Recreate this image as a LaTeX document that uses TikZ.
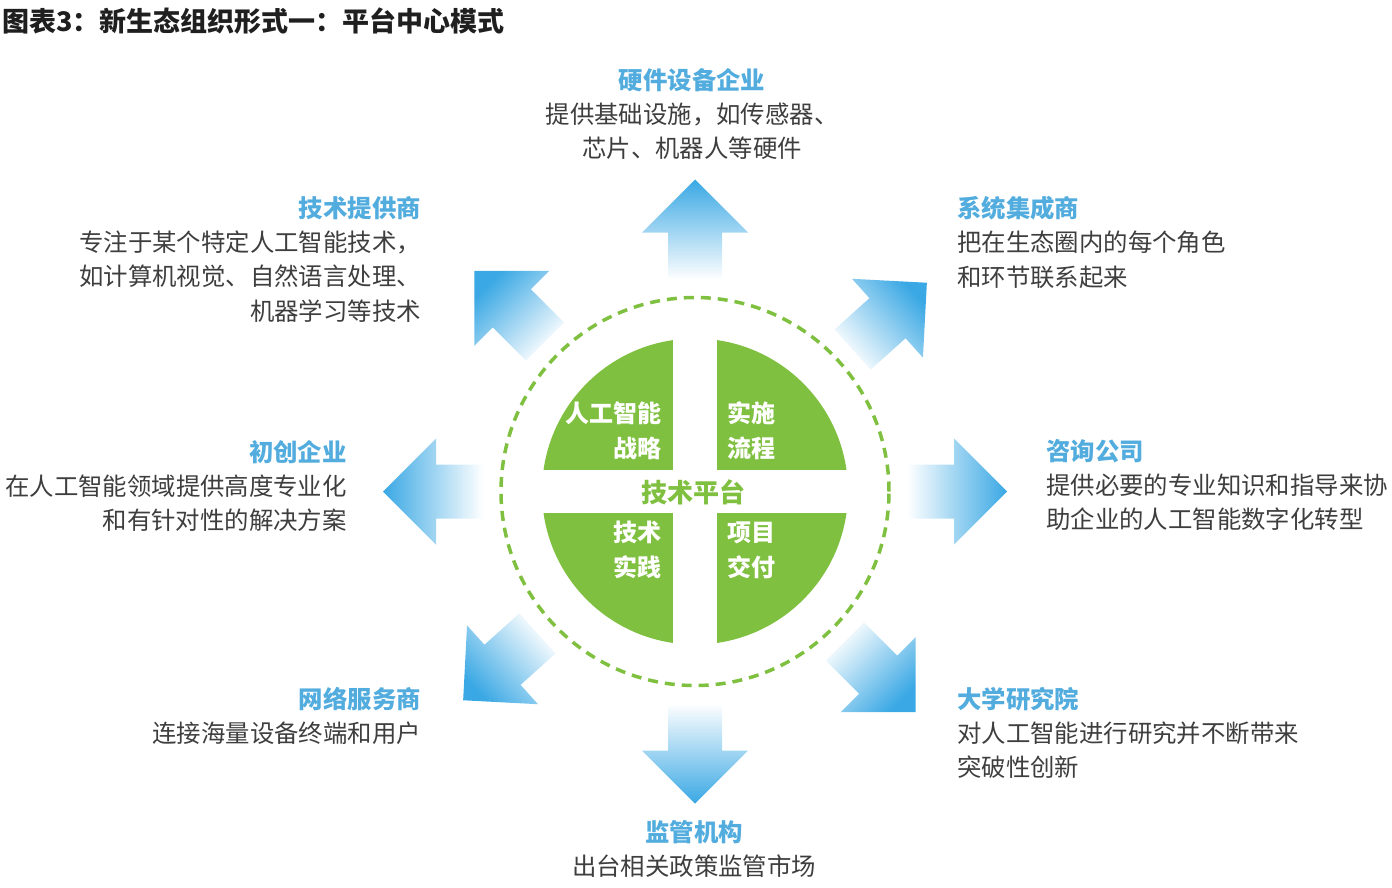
\documentclass[tikz,border=0pt]{standalone}
\usepackage{fontspec}
\setmainfont{Noto Sans CJK SC}
\usetikzlibrary{calc}
\definecolor{leaf}{RGB}{128,192,65}
\definecolor{sky}{RGB}{58,168,228}
\definecolor{capt}{RGB}{82,172,222}
\definecolor{ink}{RGB}{62,62,62}
\newcommand{\hd}[1]{{\bfseries\color{capt}#1}}
\tikzset{
  role/.style={inner sep=0pt,text=ink,font=\fontsize{24.4}{34.3}\selectfont},
  quad/.style={inner sep=0pt,text=white,font=\bfseries\fontsize{24}{35}\selectfont}
}
\begin{document}
\begin{tikzpicture}[x=1pt,y=1pt]
  \useasboundingbox (0,0) rectangle (1392,-887);
  \coordinate (o) at (695,-491.5);
  % title
  \node[anchor=north west,inner sep=0pt,font=\bfseries\fontsize{27}{30}\selectfont,text=black!88] (ttl) at (2,-8) {图表3：新生态组织形式一：平台中心模式};
  % arrows
  \foreach \a in {90,42,0,-45,-90,222,180,135}{
    \coordinate (t) at ($(o)+(\a:312)$);
    \shade[top color=sky,bottom color=white,shading angle=\a-90]
      ($(t)+(\a+180:100)+(\a+90:27)$) -- ($(t)+(\a+180:53)+(\a+90:27)$) -- ($(t)+(\a+180:53)+(\a+90:53)$) -- (t)
      -- ($(t)+(\a+180:53)+(\a-90:53)$) -- ($(t)+(\a+180:53)+(\a-90:27)$) -- ($(t)+(\a+180:100)+(\a-90:27)$) -- cycle;
  }
  % platform
  \draw[leaf,line width=3.5,dash pattern=on 10 off 7] (o) circle (194);
  \begin{scope}
    \clip (o) circle (153);
    \foreach \sx/\sy in {1/1,-1/1,1/-1,-1/-1}
      \fill[leaf] ($(o)+(\sx*22,\sy*21.5)$) rectangle ++(\sx*160,\sy*160);
  \end{scope}
  \node[quad,anchor=east,align=right] (q1) at (662,-431) {人工智能\\战略};
  \node[quad,anchor=west,align=left] (q2) at (727,-431) {实施\\流程};
  \node[quad,anchor=east,align=right] (q3) at (662,-550) {技术\\实践};
  \node[quad,anchor=west,align=left] (q4) at (727,-550) {项目\\交付};
  \node[inner sep=0pt,text=leaf,font=\bfseries\fontsize{26}{30}\selectfont] (tp) at (693,-492) {技术平台};
  % roles
  \node[role,anchor=north,align=center] (hw) at (692,-68) {\hd{硬件设备企业}\\提供基础设施，如传感器、\\芯片、机器人等硬件};
  \node[role,anchor=north east,align=right] (js) at (421,-196) {\hd{技术提供商}\\专注于某个特定人工智能技术，\\如计算机视觉、自然语言处理、\\机器学习等技术};
  \node[role,anchor=north west,align=left] (xt) at (957,-196) {\hd{系统集成商}\\把在生态圈内的每个角色\\和环节联系起来};
  \node[role,anchor=north east,align=right] (cc) at (347,-440) {\hd{初创企业}\\在人工智能领域提供高度专业化\\和有针对性的解决方案};
  \node[role,anchor=north west,align=left] (zx) at (1046,-439) {\hd{咨询公司}\\提供必要的专业知识和指导来协\\助企业的人工智能数字化转型};
  \node[role,anchor=north east,align=right] (wl) at (421,-687) {\hd{网络服务商}\\连接海量设备终端和用户};
  \node[role,anchor=north west,align=left] (dx) at (957,-687) {\hd{大学研究院}\\对人工智能进行研究并不断带来\\突破性创新};
  \node[role,anchor=north,align=center] (jg) at (694,-820) {\hd{监管机构}\\出台相关政策监管市场};
\end{tikzpicture}
\end{document}
